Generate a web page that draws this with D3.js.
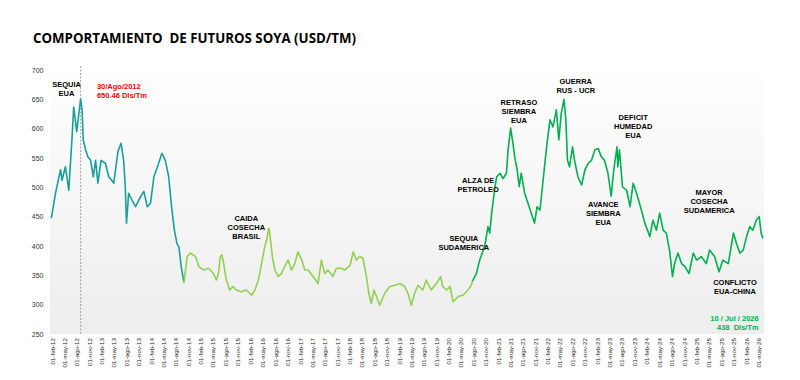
<!DOCTYPE html>
<html>
<head>
<meta charset="utf-8">
<script src="https://cdn.jsdelivr.net/npm/d3@7"></script>
<style>
  body { margin: 0; background: #fff; }
  svg { display: block; }
</style>
</head>
<body>
<svg id="chart"></svg>
<script>
// Soy futures, USD per metric ton
const prices2012_2014 = [
  ["2012-01-27", 447], ["2012-02-27", 490], ["2012-04-04", 530], ["2012-04-15", 512],
  ["2012-05-10", 535], ["2012-06-04", 495], ["2012-06-28", 586], ["2012-07-10", 637],
  ["2012-08-01", 595], ["2012-08-30", 650.46], ["2012-09-10", 632], ["2012-09-18", 581],
  ["2012-10-06", 564], ["2012-10-22", 552], ["2012-11-12", 546], ["2012-12-01", 518],
  ["2012-12-18", 546], ["2013-01-04", 507], ["2013-01-28", 546], ["2013-03-01", 541],
  ["2013-03-25", 518], ["2013-04-16", 512], ["2013-05-01", 507], ["2013-06-01", 561],
  ["2013-06-24", 575], ["2013-07-13", 546], ["2013-07-25", 501], ["2013-08-03", 439],
  ["2013-08-19", 490], ["2013-09-13", 478], ["2013-10-09", 467], ["2013-11-15", 484],
  ["2013-12-09", 493], ["2014-01-03", 467], ["2014-01-27", 473], ["2014-02-21", 518],
  ["2014-03-28", 541], ["2014-04-21", 558], ["2014-05-16", 546], ["2014-06-10", 518],
  ["2014-07-04", 461], ["2014-07-22", 427], ["2014-08-10", 404], ["2014-08-24", 399],
  ["2014-09-10", 365], ["2014-10-01", 337]
];

const prices2014_2020 = [
  ["2014-10-01", 337], ["2014-10-24", 382], ["2014-11-18", 388], ["2014-12-25", 382],
  ["2015-01-18", 365], ["2015-02-24", 359], ["2015-04-01", 362], ["2015-05-06", 353],
  ["2015-05-27", 342], ["2015-06-12", 353], ["2015-06-25", 382], ["2015-07-08", 385],
  ["2015-07-20", 370], ["2015-08-09", 342], ["2015-09-03", 325], ["2015-09-27", 331],
  ["2015-10-21", 325], ["2015-11-27", 322], ["2016-01-03", 325], ["2016-02-12", 316],
  ["2016-03-06", 325], ["2016-04-01", 342], ["2016-04-24", 370], ["2016-05-18", 399],
  ["2016-06-01", 410], ["2016-06-16", 430], ["2016-06-21", 427], ["2016-07-13", 382],
  ["2016-08-01", 359], ["2016-08-25", 348], ["2016-09-18", 353], ["2016-10-12", 365],
  ["2016-11-06", 376], ["2016-12-01", 359], ["2016-12-25", 370], ["2017-01-18", 390],
  ["2017-02-15", 376], ["2017-03-09", 359], ["2017-04-03", 359], ["2017-05-09", 348],
  ["2017-06-15", 336], ["2017-07-09", 376], ["2017-08-03", 353], ["2017-08-27", 359],
  ["2017-10-03", 348], ["2017-10-27", 362], ["2017-12-03", 362], ["2017-12-27", 359],
  ["2018-02-06", 367], ["2018-03-01", 390], ["2018-03-25", 376], ["2018-04-18", 382],
  ["2018-05-12", 379], ["2018-06-06", 348], ["2018-06-24", 319], ["2018-07-12", 302],
  ["2018-08-01", 325], ["2018-08-19", 314], ["2018-09-12", 299], ["2018-10-18", 319],
  ["2018-11-25", 331], ["2019-01-03", 333], ["2019-02-09", 336], ["2019-03-15", 331],
  ["2019-04-09", 319], ["2019-05-03", 299], ["2019-05-27", 319], ["2019-06-21", 333],
  ["2019-07-27", 325], ["2019-08-21", 342], ["2019-09-27", 325], ["2019-11-03", 336],
  ["2019-12-05", 348], ["2019-12-21", 331], ["2020-01-18", 325], ["2020-02-12", 331],
  ["2020-03-06", 305], ["2020-04-12", 314], ["2020-05-18", 316], ["2020-06-24", 325],
  ["2020-07-18", 333], ["2020-07-27", 340]
];

const prices2020_2026 = [
  ["2020-07-27", 340], ["2020-08-24", 353], ["2020-09-18", 376], ["2020-10-24", 399],
  ["2020-11-18", 433], ["2020-12-01", 422], ["2020-12-15", 456], ["2021-01-09", 501],
  ["2021-01-21", 518], ["2021-02-15", 524], ["2021-03-09", 515], ["2021-04-03", 524],
  ["2021-04-15", 564], ["2021-05-04", 601], ["2021-05-21", 575], ["2021-06-03", 552],
  ["2021-06-21", 530], ["2021-07-06", 501], ["2021-07-21", 524], ["2021-08-15", 490],
  ["2021-09-09", 473], ["2021-10-03", 456], ["2021-10-27", 439], ["2021-11-15", 467],
  ["2021-12-06", 461], ["2022-01-01", 518], ["2022-01-24", 569], ["2022-02-18", 615],
  ["2022-03-12", 603], ["2022-04-06", 632], ["2022-04-24", 581], ["2022-05-12", 626],
  ["2022-06-01", 650], ["2022-06-15", 615], ["2022-06-27", 546], ["2022-07-12", 535],
  ["2022-08-03", 569], ["2022-08-18", 546], ["2022-09-12", 518], ["2022-10-09", 504],
  ["2022-11-03", 530], ["2022-11-27", 541], ["2022-12-21", 546], ["2023-01-15", 564],
  ["2023-02-09", 566], ["2023-03-03", 552], ["2023-03-27", 546], ["2023-04-21", 524],
  ["2023-05-15", 485], ["2023-06-03", 530], ["2023-06-27", 569], ["2023-07-03", 535],
  ["2023-07-15", 564], ["2023-08-06", 501], ["2023-09-06", 495], ["2023-10-01", 467],
  ["2023-10-24", 507], ["2023-11-18", 490], ["2023-12-24", 461], ["2024-01-18", 439],
  ["2024-02-24", 416], ["2024-03-18", 444], ["2024-04-12", 427], ["2024-05-06", 456],
  ["2024-06-01", 427], ["2024-06-24", 422], ["2024-07-18", 393], ["2024-08-09", 348],
  ["2024-08-24", 370], ["2024-09-18", 388], ["2024-10-15", 370], ["2024-11-09", 365],
  ["2024-12-09", 353], ["2025-01-09", 388], ["2025-02-03", 376], ["2025-03-09", 382],
  ["2025-04-15", 370], ["2025-05-09", 393], ["2025-06-15", 382], ["2025-07-18", 356],
  ["2025-08-15", 376], ["2025-09-24", 370], ["2025-11-01", 422], ["2025-11-24", 404],
  ["2025-12-18", 388], ["2026-01-12", 393], ["2026-02-06", 416], ["2026-03-01", 433],
  ["2026-03-24", 427], ["2026-04-18", 444], ["2026-05-10", 450], ["2026-05-24", 422],
  ["2026-06-06", 413]
];

const periodColors = ["#17a09a", "#92d050", "#00b050"];
const yTicks = [250, 300, 350, 400, 450, 500, 550, 600, 650, 700];
const monthNames = ["ene", "feb", "mar", "abr", "may", "jun", "jul", "ago", "sep", "oct", "nov", "dic"];

// annotations anchored in data space (date / price of first baseline)
const notes = [
  { lines: ["SEQUIA", "EUA"], date: "2012-05-18", value: 671 },
  { lines: ["CAIDA", "COSECHA", "BRASIL"], date: "2016-01-03", value: 443 },
  { lines: ["SEQUIA", "SUDAMERICA"], date: "2020-05-24", value: 408 },
  { lines: ["ALZA DE", "PETROLEO"], date: "2020-09-07", value: 507 },
  { lines: ["RETRASO", "SIEMBRA", "EUA"], date: "2021-07-04", value: 640 },
  { lines: ["GUERRA", "RUS - UCR"], date: "2022-08-27", value: 676 },
  { lines: ["DEFICIT", "HUMEDAD", "EUA"], date: "2023-10-24", value: 614 },
  { lines: ["AVANCE", "SIEMBRA", "EUA"], date: "2023-03-18", value: 466 },
  { lines: ["MAYOR", "COSECHA", "SUDAMERICA"], date: "2025-05-06", value: 487 },
  { lines: ["CONFLICTO", "EUA-CHINA"], date: "2025-11-12", value: 333 }
];
const peakNote = { lines: ["30/Ago/2012", "650.46 Dls/Tm"], date: "2012-12-28", value: 667 };
const lastNote = { lines: ["10 / Jul / 2026", "438  Dls/Tm"], date: "2026-05-06", value: 272 };
const markerDate = "2012-08-30";

const width = 800, height = 380;
const plotLeft = 50, plotRight = 764, plotTop = 60, plotBottom = 334;
const parse = d3.timeParse("%Y-%m-%d");

const svg = d3.select("#chart").attr("width", width).attr("height", height);

const x = d3.scaleTime()
  .domain([new Date(2012, 1, 1), new Date(2026, 4, 1)])
  .range([52, 758]);
const y = d3.scaleLinear()
  .domain([250, 700])
  .range([plotBottom, 70]);

// plot background gradient
const grad = svg.append("defs").append("linearGradient")
  .attr("id", "bg").attr("x1", 0).attr("y1", 0).attr("x2", 0).attr("y2", 1);
grad.append("stop").attr("offset", "0%").attr("stop-color", "#ffffff");
grad.append("stop").attr("offset", "100%").attr("stop-color", "#ededed");

svg.append("rect")
  .attr("x", plotLeft).attr("y", plotTop)
  .attr("width", plotRight - plotLeft).attr("height", plotBottom - plotTop)
  .attr("fill", "url(#bg)");

// title
svg.append("text")
  .attr("x", 33).attr("y", 43)
  .attr("font-family", "'Open Sans', sans-serif")
  .attr("font-weight", "bold")
  .attr("font-size", 13.5)
  .attr("textLength", 323)
  .attr("lengthAdjust", "spacingAndGlyphs")
  .attr("fill", "#000")
  .style("white-space", "pre")
  .text("COMPORTAMIENTO  DE FUTUROS SOYA (USD/TM)");

// y axis
const yAxis = svg.append("g")
  .attr("transform", `translate(${plotLeft},0)`)
  .call(d3.axisLeft(y).tickValues(yTicks).tickSize(0).tickPadding(6.5));
yAxis.select(".domain").remove();
yAxis.selectAll("text")
  .attr("font-family", "'Liberation Sans', Arial, sans-serif")
  .attr("font-size", 7)
  .attr("fill", "#333");

// x axis, quarterly labels
const tickDates = d3.timeMonth.range(new Date(2012, 1, 1), new Date(2026, 5, 1), 3);
const fmt = d => "01-" + monthNames[d.getMonth()] + "-" + String(d.getFullYear()).slice(2);
const xAxis = svg.append("g")
  .attr("transform", `translate(0,${plotBottom})`)
  .call(d3.axisBottom(x).tickValues(tickDates).tickFormat(fmt).tickSize(0));
xAxis.select(".domain").remove();
xAxis.selectAll("text")
  .attr("transform", "rotate(-90)")
  .attr("text-anchor", "end")
  .attr("x", -4).attr("y", 0).attr("dy", "0.35em")
  .attr("font-family", "'Liberation Sans', Arial, sans-serif")
  .attr("font-size", 6.2)
  .attr("fill", "#222");

// dashed marker at the 2012 peak
svg.append("line")
  .attr("x1", x(parse(markerDate))).attr("x2", x(parse(markerDate)))
  .attr("y1", 66).attr("y2", plotBottom)
  .attr("stroke", "#8c8c8c").attr("stroke-width", 0.8)
  .attr("stroke-dasharray", "2,1.5");

// price line, coloured by period
const line = d3.line()
  .x(d => x(parse(d[0])))
  .y(d => y(d[1]));

[prices2012_2014, prices2014_2020, prices2020_2026].forEach((series, i) => {
  svg.append("path")
    .datum(series)
    .attr("fill", "none")
    .attr("stroke", periodColors[i])
    .attr("stroke-width", 1.6)
    .attr("stroke-linejoin", "round")
    .attr("d", line);
});

// annotations
function addNote(n, anchor, color) {
  const t = svg.append("text")
    .attr("x", x(parse(n.date)))
    .attr("y", y(n.value))
    .attr("text-anchor", anchor)
    .attr("font-family", "'Liberation Sans', Arial, sans-serif")
    .attr("font-weight", "bold")
    .attr("font-size", 7.5)
    .attr("fill", color)
    .style("white-space", "pre");
  n.lines.forEach((s, i) => {
    t.append("tspan")
      .attr("x", x(parse(n.date)))
      .attr("dy", i === 0 ? 0 : 9)
      .text(s);
  });
}
notes.forEach(n => addNote(n, "middle", "#000"));
addNote(peakNote, "start", "#ff0000");
addNote(lastNote, "end", "#00b050");
</script>
</body>
</html>
